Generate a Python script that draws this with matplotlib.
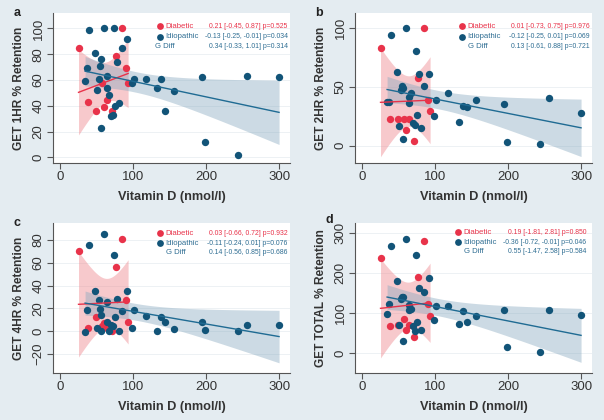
import numpy as np
import matplotlib
matplotlib.use("Agg")
from matplotlib import pyplot as plt

plt.rcParams['font.family'] = ['Liberation Sans', 'DejaVu Sans']

# vitamin D per patient (same patients in every panel)
vitd_diab = [25, 37.4, 49, 56.6, 60, 63.5, 71, 77, 84, 90, 93]
vitd_idio = [34, 37, 39, 47.5, 51, 52.5, 54, 55.7, 56, 60.5, 63.5, 64.5, 67, 70, 72,
             73.5, 74.5, 78, 80, 85, 91, 97.7, 101, 117, 132, 138, 144, 156, 195,
             199, 244, 256, 300]

# GET retention, one list per panel
get1_diab = [85, 43, 36, 58, 39, 44.5, 36, 79, 100, 69, 58]
get1_idio = [59.4, 69, 99, 81, 52, 60.7, 71, 23, 76, 100, 63, 54, 48, 32, 33,
             100, 40, 74, 42, 84.5, 92, 58, 60.5, 61, 53.5, 60.5, 36, 51.4, 62,
             11.6, 1.5, 63, 62]

get2_diab = [82.5, 23, 22.3, 23, 13, 23, 4, 57, 99.4, 38.7, 29.4]
get2_idio = [36.7, 36.7, 94, 62, 17, 47, 50.6, 6, 49, 99.4, 36, 41.5, 45, 19, 17.5,
             80, 26, 61, 15, 50.6, 61, 25, 38.7, 45, 20, 34, 33, 39, 35,
             3, 1, 40.7, 28]

get4_diab = [70.6, 3, 12, 4, 7, 3, 0, 56, 81, 27.4, 7.6]
get4_idio = [-0.6, 18.5, 76, 35.6, 2.5, 27, 19.5, 0.3, 14, 85.6, 7.6, 25.6, 0.3, 5, 4,
             67, 12.6, 28, 0.3, 17.6, 35.6, 2.4, 18.5, 13.5, 0, 12.6, 8, 1.5, 8,
             1, 0.3, 5.3, 5.3]

gett_diab = [239, 68, 70, 85.5, 58.7, 70, 40, 191, 281, 124, 94]
gett_idio = [98, 124, 268, 180, 71, 136, 141, 29, 140, 287, 107, 121, 110, 67, 54.5,
             247, 78, 163, 57, 153, 189, 84, 117, 117, 73, 105, 77, 92, 107,
             15, 2.5, 109, 96]

letters = ['a', 'b', 'c', 'd']
ylabels = ['GET 1HR % Retention', 'GET 2HR % Retention',
           'GET 4HR % Retention', 'GET TOTAL % Retention']
ylims = [(-4.4, 112), (-14.7, 112.4), (-37, 95), (-50, 326)]
yticks = [[0, 20, 40, 60, 80, 100], [0, 50, 100], [-20, 0, 20, 40, 60, 80], [0, 100, 200, 300]]

stats_diab = ['0.21 [-0.45, 0.87] p=0.525', '0.01 [-0.73, 0.75] p=0.976',
              '0.03 [-0.66, 0.72] p=0.932', '0.19 [-1.81, 2.81] p=0.850']
stats_idio = ['-0.13 [-0.25, -0.01] p=0.034', '-0.12 [-0.25, 0.01] p=0.069',
              '-0.11 [-0.24, 0.01] p=0.076', '-0.36 [-0.72, -0.01] p=0.046']
stats_diff = ['0.34 [-0.33, 1.01] p=0.314', '0.13 [-0.61, 0.88] p=0.721',
              '0.14 [-0.56, 0.85] p=0.686', '0.55 [-1.47, 2.58] p=0.584']

panels_y = [(get1_diab, get1_idio), (get2_diab, get2_idio),
            (get4_diab, get4_idio), (gett_diab, gett_idio)]

RED = '#e8334a'
BLUE = '#125478'
BLUE_TXT = '#2f6e93'
BG = '#e4ecf1'

# t critical values (95%) for df = n - 2
TCRIT = {9: 2.262, 31: 2.040}


def lfitci(x, y):
    x = np.asarray(x, float)
    y = np.asarray(y, float)
    n = len(x)
    b, a = np.polyfit(x, y, 1)
    res = y - (a + b * x)
    s = np.sqrt(np.sum(res ** 2) / (n - 2))
    sxx = np.sum((x - x.mean()) ** 2)
    xs = np.linspace(x.min(), x.max(), 100)
    fit = a + b * xs
    se = s * np.sqrt(1.0 / n + (xs - x.mean()) ** 2 / sxx)
    t = TCRIT[n - 2]
    return xs, fit, fit - t * se, fit + t * se


fig = plt.figure(figsize=(6.04, 4.20), dpi=100, facecolor=BG)

W, H = 604.0, 420.0
boxes = [(53, 13), (355, 13), (53, 223), (355, 223)]

for i in range(4):
    left, top = boxes[i]
    ax = fig.add_axes([left / W, 1 - (top + 150) / H, 237 / W, 150 / H])
    ax.set_facecolor('white')
    yd, yi = panels_y[i]

    xs, fit, lo, hi = lfitci(vitd_diab, yd)
    ax.fill_between(xs, lo, hi, color='#ee7f86', alpha=0.42, lw=0, zorder=1)
    xs2, fit2, lo2, hi2 = lfitci(vitd_idio, yi)
    ax.fill_between(xs2, lo2, hi2, color='#86a8bf', alpha=0.42, lw=0, zorder=1)

    ax.scatter(vitd_diab, yd, s=28, color=RED, lw=0, zorder=3)
    ax.scatter(vitd_idio, yi, s=28, color=BLUE, lw=0, zorder=3)
    ax.plot(xs, fit, color=RED, lw=1.0, zorder=4)
    ax.plot(xs2, fit2, color='#1f6b93', lw=1.0, zorder=4)

    ax.set_xlim(-10, 315)
    ax.set_ylim(*ylims[i])
    ax.set_xticks([0, 100, 200, 300])
    ax.set_yticks(yticks[i])
    ax.grid(axis='y', color='#edf1f4', lw=0.7)
    ax.set_axisbelow(True)
    for sp in ['top', 'right']:
        ax.spines[sp].set_visible(False)
    for sp in ['left', 'bottom']:
        ax.spines[sp].set_color('#555555')
        ax.spines[sp].set_linewidth(0.8)
    ax.tick_params(length=4, width=0.8, color='#555555', labelsize=9.5,
                   labelcolor='#333333', pad=2)
    for lab in ax.get_yticklabels():
        lab.set_rotation(90)
        lab.set_va('center')

    ax.set_xlabel('Vitamin D (nmol/l)', fontsize=9.2, fontweight='bold', color='#333333')
    ax.xaxis.set_label_coords(0.5, -0.185)
    ax.set_ylabel(ylabels[i], fontsize=8.6, fontweight='bold', color='#333333')
    ax.yaxis.set_label_coords(-0.118, 0.5)

    if i == 3:
        lx, ly = -0.11, 1.02
    else:
        lx, ly = -0.15, 1.0
    ax.text(lx, ly, letters[i], transform=ax.transAxes, fontsize=9,
            fontweight='bold', color='#222222', ha='center', va='center')

    if i == 3:
        ys = [0.937, 0.873, 0.807]
        xdot, xlab, xg, xr = 0.435, 0.456, 0.46, 0.975
    elif i == 2:
        ys = [0.931, 0.864, 0.802]
        xdot, xlab, xg, xr = 0.452, 0.474, 0.477, 0.99
    else:
        ys = [0.913, 0.842, 0.775]
        xdot, xlab, xg, xr = 0.452, 0.474, 0.43 if i == 0 else 0.477, 0.99

    ax.scatter([xdot], [ys[0]], s=24, color=RED, lw=0, transform=ax.transAxes,
               clip_on=False, zorder=5)
    ax.scatter([xdot], [ys[1]], s=24, color=BLUE, lw=0, transform=ax.transAxes,
               clip_on=False, zorder=5)
    ax.text(xlab, ys[0], 'Diabetic', transform=ax.transAxes, fontsize=5.6,
            color=RED, va='center', ha='left')
    ax.text(xlab, ys[1], 'Idiopathic', transform=ax.transAxes, fontsize=5.6,
            color=BLUE_TXT, va='center', ha='left')
    ax.text(xg, ys[2], 'G Diff', transform=ax.transAxes, fontsize=5.6,
            color=BLUE_TXT, va='center', ha='left')
    ax.text(xr, ys[0], stats_diab[i], transform=ax.transAxes, fontsize=4.95,
            color=RED, va='center', ha='right')
    ax.text(xr, ys[1], stats_idio[i], transform=ax.transAxes, fontsize=4.95,
            color=BLUE_TXT, va='center', ha='right')
    ax.text(xr, ys[2], stats_diff[i], transform=ax.transAxes, fontsize=4.95,
            color=BLUE_TXT, va='center', ha='right')

fig.savefig('out.png', dpi=100, facecolor=BG)
